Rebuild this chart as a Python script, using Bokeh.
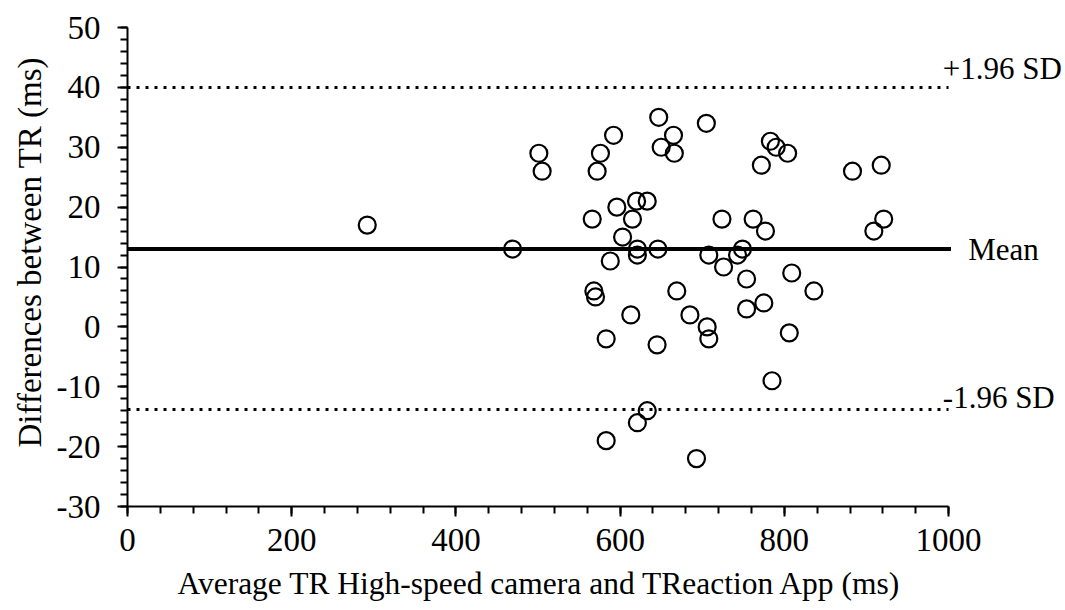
from bokeh.plotting import figure
from bokeh.models import Range1d, FixedTicker, Label, Title
from bokeh.embed import file_html
from bokeh.resources import INLINE

# Bland-Altman data: average of the two methods (ms) vs difference (ms)
avg_ms = [292, 469, 501, 505, 566, 568, 570, 576, 572, 583, 583, 588, 592, 596,
          603, 613, 615, 620, 621, 621, 621, 633, 633, 647, 646, 645, 650, 665,
          666, 669, 685, 693, 705, 706, 708, 708, 724, 726, 743, 749, 754, 754,
          762, 772, 775, 777, 783, 785, 790, 804, 806, 809, 836, 883, 909, 918, 921]
diff_ms = [17, 13, 29, 26, 18, 6, 5, 29, 26, -2, -19, 11, 32, 20,
           15, 2, 18, 21, 13, 12, -16, 21, -14, 35, 13, -3, 30, 32,
           29, 6, 2, -22, 34, 0, 12, -2, 18, 10, 12, 13, 8, 3,
           18, 27, 4, 16, 31, -9, 30, 29, -1, 9, 6, 26, 16, 27, 18]

mean_diff = 13.0
upper_loa = 40.0
lower_loa = -13.8

x_ticks = [0, 200, 400, 600, 800, 1000]
x_minor = list(range(0, 1001, 40))
y_ticks = [-30, -20, -10, 0, 10, 20, 30, 40, 50]
y_minor = list(range(-30, 51, 2))

x_title = "Average TR High-speed camera and TReaction App (ms)"
y_title = "Differences between TR (ms)"

FONT = "Liberation Serif"
TICK_FS = "33px"
XLABEL_FS = "31.5px"
YLABEL_FS = "33px"
ANN_FS = "31px"

x_lo, x_hi = x_ticks[0], x_ticks[-1]

p = figure(width=1063, height=610, output_backend="svg", toolbar_location=None,
           x_range=Range1d(x_lo, 1140), y_range=Range1d(y_ticks[0], y_ticks[-1]),
           min_border_left=127, min_border_right=0,
           min_border_top=27, min_border_bottom=103)
p.outline_line_color = None
p.grid.visible = False
p.background_fill_color = "white"
p.border_fill_color = "white"

for ax in (p.xaxis[0], p.yaxis[0]):
    ax.axis_line_color = "black"
    ax.axis_line_width = 2
    ax.major_tick_line_color = "black"
    ax.major_tick_line_width = 2
    ax.minor_tick_line_color = "black"
    ax.minor_tick_line_width = 2
    ax.major_tick_out = 10
    ax.major_tick_in = 0
    ax.minor_tick_out = 7
    ax.minor_tick_in = 0
    ax.major_label_text_font = FONT
    ax.major_label_text_font_size = TICK_FS
    ax.major_label_text_color = "black"

p.xaxis.bounds = (x_lo, x_hi)
p.xaxis.ticker = FixedTicker(ticks=x_ticks, minor_ticks=x_minor)
p.yaxis.ticker = FixedTicker(ticks=y_ticks, minor_ticks=y_minor)
p.yaxis.major_label_overrides = {t: str(t) for t in y_ticks if t < 0}
p.xaxis.major_label_standoff = 12
p.yaxis.major_label_standoff = 17

# axis titles (placed as titles so they can be positioned along the axis)
p.add_layout(Title(text=x_title, text_font=FONT, text_font_size=XLABEL_FS,
                   text_font_style="normal", text_color="black",
                   align="left", offset=50, standoff=20), "below")
p.add_layout(Title(text=y_title, text_font=FONT, text_font_size=YLABEL_FS,
                   text_font_style="normal", text_color="black",
                   align="left", offset=59, standoff=12), "left")

# mean and limits of agreement
p.segment(x0=[x_lo], y0=[mean_diff], x1=[x_hi + 3], y1=[mean_diff],
          line_color="black", line_width=4)
p.segment(x0=[x_lo, x_lo], y0=[upper_loa, lower_loa], x1=[x_hi, x_hi],
          y1=[upper_loa, lower_loa], line_color="black", line_width=3,
          line_dash="3 6")

p.scatter(avg_ms, diff_ms, marker="circle", size=17, fill_color=None,
          line_color="black", line_width=2.2)

p.add_layout(Label(x=993, y=upper_loa, text="+1.96 SD", text_font=FONT,
                   text_font_size=ANN_FS, text_baseline="middle", y_offset=19,
                   text_color="black"))
p.add_layout(Label(x=1024, y=mean_diff, text="Mean", text_font=FONT,
                   text_font_size=ANN_FS, text_baseline="middle", text_color="black"))
p.add_layout(Label(x=993, y=lower_loa, text="-1.96 SD", text_font=FONT,
                   text_font_size=ANN_FS, text_baseline="middle", y_offset=12,
                   text_color="black"))

open("out.html", "w").write(file_html(p, INLINE))
